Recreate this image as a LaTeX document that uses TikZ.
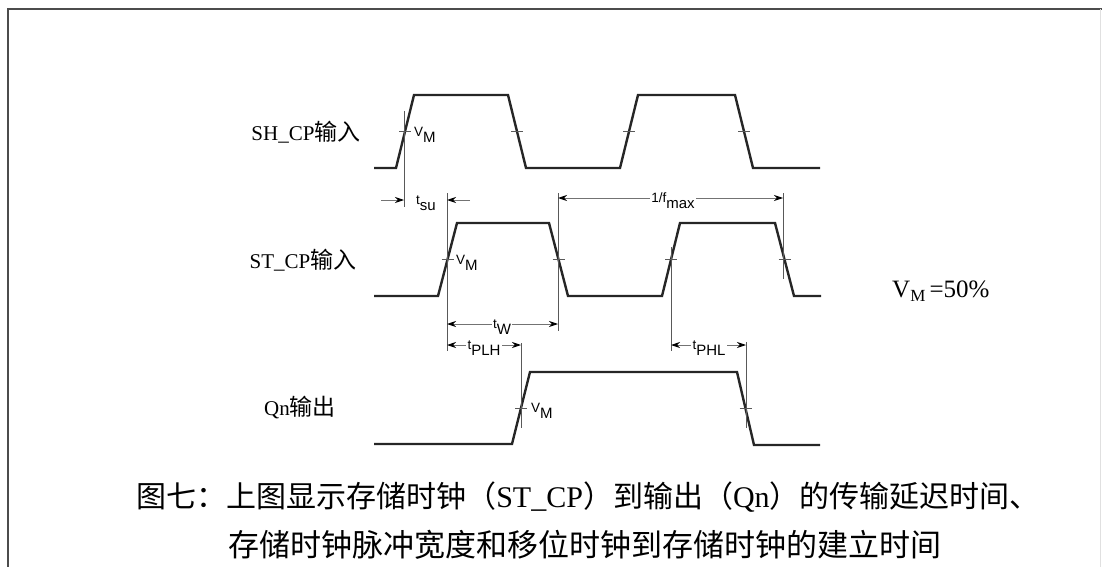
\documentclass[tikz,border=0pt]{standalone}
\usepackage{fontspec}
\setmainfont{Liberation Serif}
\newfontfamily\cjk{Noto Sans CJK SC}
\newfontfamily\labfont{Liberation Sans}
\usetikzlibrary{arrows.meta}
\newcommand\sublbl[2]{{\labfont\fontsize{13.5}{13.5}\selectfont #1\raisebox{-6pt}{\fontsize{15}{15}\selectfont #2}}}
\newcommand\signame[2]{{\fontsize{21}{21}\selectfont #1{\cjk\fontsize{23}{23}\selectfont #2}}}
\begin{document}
\begin{tikzpicture}[x=1pt,y=-1pt,
  wave/.style={line width=2.4pt,line join=miter,black!85},
  guide/.style={line width=0.8pt,black!65},
  tick/.style={line width=0.8pt,black!65},
  dim/.style={line width=0.9pt,black!55,{Stealth[length=9pt,width=6pt,color=black]}-{Stealth[length=9pt,width=6pt,color=black]}},
  dimr/.style={line width=0.9pt,black!55,-{Stealth[length=9pt,width=6pt,color=black]}},
  lbl/.style={inner sep=1.5pt,fill=white},
  frame/.style={line width=2pt,black!70}]
\useasboundingbox (0,0) rectangle (1102,567);
% frame
\coordinate (fTL) at (8,9);
\coordinate (fTR) at (1102,9);
\coordinate (fBL) at (8,567);
\draw[frame] (fBL) -- (fTL) -- (fTR);
\draw[black!12,line width=1pt] (1100,9) -- (1100,567);

% signal names
\node (shname) at (306,132) {\signame{SH\_CP}{输入}};
\node (stname) at (303,260) {\signame{ST\_CP}{输入}};
\node (qnname) at (300,408) {\signame{Qn}{输出}};

% waveforms
\draw[wave] (374,168) -- (396,168) -- (414,95) -- (508,95) -- (526,168) -- (620,168) -- (638,95) -- (735,95) -- (753,168) -- (820,168);
\draw[wave] (374,296) -- (438,296) -- (457,223) -- (549,223) -- (568,296) -- (662,296) -- (680,223) -- (775,223) -- (794,296) -- (821,296);
\draw[wave] (374,444) -- (512,444) -- (530,372) -- (737,372) -- (754,445) -- (820,445);

% V_M crossing points
\coordinate (sh1) at (405,131.5);
\coordinate (sh2) at (517,131.5);
\coordinate (sh3) at (629,131.5);
\coordinate (sh4) at (744,131.5);
\coordinate (st1) at (447.5,259.5);
\coordinate (st2) at (558.5,259.5);
\coordinate (st3) at (671,259.5);
\coordinate (st4) at (784.5,259.5);
\coordinate (qn1) at (521,408);
\coordinate (qn2) at (745.5,408);
\foreach \p in {sh1,sh2,sh3,sh4,st1,st2,st3,st4,qn1,qn2}
  \draw[tick] ([xshift=-6pt]\p) -- ([xshift=6pt]\p);

% guide lines
\coordinate (g1t) at (404,111);  \coordinate (g1b) at (404,207);
\coordinate (g2t) at (447,193);  \coordinate (g2b) at (447,351);
\coordinate (g3t) at (558,193);  \coordinate (g3b) at (558,331);
\coordinate (g4t) at (783,193);  \coordinate (g4b) at (783,279);
\coordinate (g5t) at (671,247);  \coordinate (g5b) at (671,351);
\coordinate (g6t) at (521,343);  \coordinate (g6b) at (521,428);
\coordinate (g7t) at (746,342);  \coordinate (g7b) at (746,428);
\foreach \a/\b in {g1t/g1b,g2t/g2b,g3t/g3b,g4t/g4b,g5t/g5b,g6t/g6b,g7t/g7b}
  \draw[guide] (\a) -- (\b);

% V_M labels
\node[anchor=base west,inner sep=0pt] (vm1) at (414,136) {\sublbl{V}{M}};
\node[anchor=base west,inner sep=0pt] (vm2) at (456,264) {\sublbl{V}{M}};
\node[anchor=base west,inner sep=0pt] (vm3) at (531,412) {\sublbl{V}{M}};

% t_su
\coordinate (su1) at (381,200); \coordinate (su1e) at (404,200);
\coordinate (su2) at (470,200); \coordinate (su2e) at (447,200);
\draw[dimr] (su1) -- (su1e);
\draw[dimr] (su2) -- (su2e);
\node[anchor=base,inner sep=0pt] (tsu) at (426,204) {\sublbl{t}{su}};

% 1/f_max
\coordinate (fa) at (558,198); \coordinate (fb) at (783,198);
\draw[dim] (fa) -- (fb);
\node[lbl,anchor=base] (fmax) at (673,202) {\sublbl{1/f}{max}};

% t_W
\coordinate (wa) at (447,324); \coordinate (wb) at (558,324);
\draw[dim] (wa) -- (wb);
\node[lbl,anchor=base] (tw) at (502,328) {\sublbl{t}{W}};

% t_PLH
\coordinate (pa) at (447,345); \coordinate (pb) at (521,345);
\draw[dim] (pa) -- (pb);
\node[lbl,anchor=base] (tplh) at (484,349) {\sublbl{t}{PLH}};

% t_PHL
\coordinate (ha) at (671,345); \coordinate (hb) at (746,345);
\draw[dim] (ha) -- (hb);
\node[lbl,anchor=base] (tphl) at (709,349) {\sublbl{t}{PHL}};

% V_M = 50%
\node[anchor=base west,inner sep=0pt] (vmdef) at (892,297) {\fontsize{25}{25}\selectfont V\raisebox{-4pt}{\fontsize{17}{17}\selectfont M}\,=50\%};

% caption
\node (cap1) at (588,497) {\fontsize{30}{30}\selectfont{\cjk 图七：上图显示存储时钟（}ST\_CP{\cjk ）到输出（}Qn{\cjk ）的传输延迟时间、}};
\node (cap2) at (585,545) {\fontsize{31}{31}\selectfont\cjk 存储时钟脉冲宽度和移位时钟到存储时钟的建立时间};
\end{tikzpicture}
\end{document}
